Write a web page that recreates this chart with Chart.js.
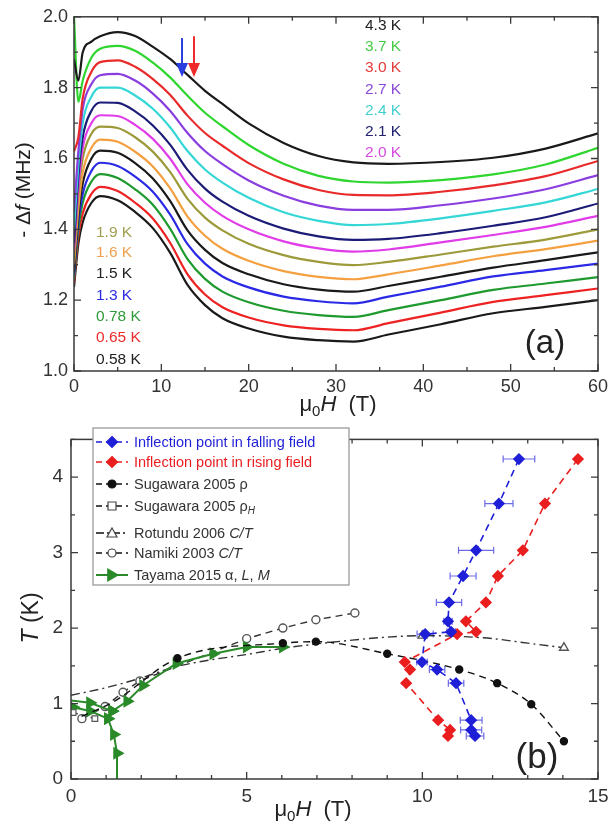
<!DOCTYPE html>
<html>
<head>
<meta charset="utf-8">
<script src="https://cdn.jsdelivr.net/npm/chart.js@4.4.1/dist/chart.umd.min.js"></script>
<style>
  body { margin: 0; background: #fff; }
  #wrap { position: relative; width: 616px; height: 829px; }
  #c1 { position: absolute; left: 0; top: 0; }
  #c2 { position: absolute; left: 0; top: 420px; }
</style>
</head>
<body>
<div id="wrap">
  <canvas id="c1" width="616" height="420"></canvas>
  <canvas id="c2" width="616" height="409"></canvas>
</div>
<script>
// ---- panel (a): -Δf vs field, one curve per temperature ----
const fieldGrid = [0, 0.5, 1, 2, 3, 5, 7, 9, 11, 13, 15, 17, 20, 24, 28, 32, 36, 42, 48, 54, 60];
const tempLabels = ['4.3 K', '3.7 K', '3.0 K', '2.7 K', '2.4 K', '2.1 K', '2.0 K',
                    '1.9 K', '1.6 K', '1.5 K', '1.3 K', '0.78 K', '0.65 K', '0.58 K'];
const df_4_3  = [1.88, 1.82, 1.90, 1.93, 1.945, 1.957, 1.946, 1.916, 1.881, 1.836, 1.791, 1.754, 1.699, 1.644, 1.607, 1.589, 1.585, 1.590, 1.602, 1.628, 1.671];
const df_3_7  = [2.0, 1.76, 1.82, 1.885, 1.91, 1.918, 1.904, 1.871, 1.829, 1.777, 1.729, 1.691, 1.638, 1.585, 1.551, 1.535, 1.532, 1.539, 1.555, 1.583, 1.630];
const df_3_0  = [1.62, 1.66, 1.77, 1.845, 1.872, 1.877, 1.859, 1.825, 1.780, 1.721, 1.672, 1.636, 1.587, 1.541, 1.511, 1.497, 1.496, 1.506, 1.524, 1.550, 1.593];
const df_2_7  = [1.45, 1.62, 1.74, 1.81, 1.835, 1.839, 1.820, 1.784, 1.735, 1.672, 1.621, 1.584, 1.538, 1.495, 1.467, 1.455, 1.455, 1.468, 1.487, 1.513, 1.553];
const df_2_4  = [1.40, 1.58, 1.70, 1.775, 1.80, 1.800, 1.778, 1.741, 1.688, 1.621, 1.569, 1.532, 1.489, 1.448, 1.424, 1.412, 1.415, 1.431, 1.452, 1.476, 1.514];
const df_2_1  = [1.36, 1.55, 1.66, 1.735, 1.758, 1.757, 1.733, 1.694, 1.639, 1.568, 1.515, 1.478, 1.438, 1.402, 1.380, 1.370, 1.373, 1.389, 1.410, 1.434, 1.473];
const df_2_0  = [1.34, 1.52, 1.63, 1.70, 1.722, 1.720, 1.695, 1.656, 1.600, 1.527, 1.475, 1.438, 1.400, 1.366, 1.346, 1.337, 1.343, 1.363, 1.384, 1.407, 1.438];
const df_1_9  = [1.32, 1.50, 1.60, 1.67, 1.69, 1.686, 1.660, 1.620, 1.562, 1.486, 1.433, 1.397, 1.359, 1.327, 1.308, 1.299, 1.308, 1.329, 1.351, 1.371, 1.400];
const df_1_6  = [1.30, 1.46, 1.56, 1.63, 1.653, 1.647, 1.619, 1.578, 1.516, 1.436, 1.382, 1.345, 1.311, 1.282, 1.266, 1.259, 1.273, 1.298, 1.324, 1.344, 1.368];
const df_1_5  = [1.28, 1.44, 1.53, 1.60, 1.622, 1.616, 1.587, 1.544, 1.480, 1.397, 1.342, 1.305, 1.273, 1.245, 1.230, 1.224, 1.240, 1.266, 1.292, 1.313, 1.335];
const df_1_3  = [1.27, 1.42, 1.50, 1.565, 1.588, 1.579, 1.549, 1.507, 1.442, 1.358, 1.303, 1.267, 1.236, 1.210, 1.197, 1.191, 1.210, 1.238, 1.267, 1.285, 1.303];
const df_0_78 = [1.26, 1.40, 1.475, 1.535, 1.556, 1.545, 1.513, 1.470, 1.402, 1.316, 1.260, 1.224, 1.194, 1.170, 1.158, 1.153, 1.172, 1.200, 1.229, 1.247, 1.265];
const df_0_65 = [1.25, 1.38, 1.445, 1.50, 1.52, 1.508, 1.475, 1.431, 1.362, 1.273, 1.216, 1.180, 1.151, 1.129, 1.119, 1.115, 1.135, 1.165, 1.195, 1.214, 1.233];
const df_0_58 = [1.237, 1.36, 1.42, 1.475, 1.494, 1.482, 1.449, 1.404, 1.334, 1.243, 1.186, 1.149, 1.120, 1.097, 1.087, 1.083, 1.103, 1.132, 1.163, 1.181, 1.200];
const curves = [df_4_3, df_3_7, df_3_0, df_2_7, df_2_4, df_2_1, df_2_0, df_1_9, df_1_6, df_1_5, df_1_3, df_0_78, df_0_65, df_0_58];

// arrows marking the inflection (falling / rising)
const arrowField = [12.37, 13.74];
const arrowFrom = [1.94, 1.945];
const arrowTo = [1.83, 1.83];

// ---- panel (b): phase diagram T vs field ----
const inflT      = [4.24, 3.65, 3.03, 2.69, 2.34, 2.09, 1.95, 1.92, 1.55, 1.45, 1.27, 0.78, 0.65, 0.57];
const hFalling   = [12.75, 12.18, 11.53, 11.16, 10.76, 10.73, 10.82, 10.08, 9.99, 10.42, 10.96, 11.39, 11.39, 11.5];
const hFallErr   = [0.45, 0.4, 0.5, 0.37, 0.36, 0.12, 0.12, 0.23, 0.15, 0.22, 0.22, 0.31, 0.3, 0.25];
const hRising    = [14.43, 13.49, 12.86, 12.15, 11.81, 11.24, 11.53, 10.99, 9.5, 9.65, 9.54, 10.45, 10.79, 10.73];
const sugRhoH    = [0.3, 1.2, 3.03, 6.03, 6.97, 9.0, 11.05, 12.13, 13.1, 14.03];
const sugRhoT    = [0.83, 1.02, 1.6, 1.8, 1.82, 1.66, 1.45, 1.27, 0.99, 0.5];
const sugRhoHallH = [0.06, 0.68];
const sugRhoHallT = [0.88, 0.8];
const rotH       = [0, 1, 2, 3, 4, 5, 6, 7, 8, 9, 10, 11, 12, 13, 14.03];
const rotT       = [1.11, 1.21, 1.34, 1.49, 1.58, 1.65, 1.73, 1.79, 1.84, 1.88, 1.9, 1.89, 1.86, 1.8, 1.74];
const namH       = [0.31, 0.97, 1.48, 1.96, 5.0, 6.03, 6.97, 8.08];
const namT       = [0.8, 0.96, 1.15, 1.3, 1.86, 2.0, 2.11, 2.2];
const tayH       = [1.31, 1.31, 1.22, 1.05, 1.17, 1.6, 2.05, 3.0, 4.05, 5.0, 6.03];
const tayT       = [0, 0.34, 0.59, 0.8, 0.9, 1.03, 1.24, 1.53, 1.66, 1.75, 1.75];
const tayB1H     = [1.05, 0.54, 0.06];
const tayB1T     = [0.8, 0.9, 0.95];
const tayB2H     = [1.17, 0.54, 0.0];
const tayB2T     = [0.9, 1.01, 1.04];

const FONT = '"Liberation Sans", Arial, sans-serif';
const curveColors = ['#1a1a1a', '#2fd62f', '#e82a2a', '#8a3ee0', '#34d6d6', '#1c1c78', '#e03ce8',
                     '#9c9a3a', '#f5a040', '#1a1a1a', '#2a2ae6', '#1f9a2f', '#ee2222', '#1a1a1a'];
const labelColors = ['#222', '#44cc44', '#e23a3a', '#8a4ad8', '#44d0d0', '#22226e', '#d64ae0',
                     '#a09e50', '#f0a050', '#222', '#2a2ae0', '#2f9a3a', '#ee2a2a', '#222'];

const zip = (xs, ys) => xs.map((x, i) => ({ x, y: ys[i] }));

// text made of runs: [text, sizePx, italic, dy]
function runWidth(ctx, runs) {
  let w = 0;
  runs.forEach(r => { ctx.font = (r[2] ? 'italic ' : '') + r[1] + 'px ' + FONT; w += ctx.measureText(r[0]).width; });
  return w;
}
function drawRuns(ctx, runs, x, y, align) {
  let cx = align === 'center' ? x - runWidth(ctx, runs) / 2 : x;
  runs.forEach(r => {
    ctx.font = (r[2] ? 'italic ' : '') + r[1] + 'px ' + FONT;
    ctx.fillText(r[0], cx, y + (r[3] || 0));
    cx += ctx.measureText(r[0]).width;
  });
}

// box around the plot with inward ticks on all sides
const framePlugin = {
  id: 'frame',
  afterDraw(chart, args, o) {
    const { ctx, chartArea: a, scales: { x, y } } = chart;
    ctx.save();
    ctx.strokeStyle = '#3a3a3a';
    ctx.lineWidth = 1.5;
    ctx.strokeRect(a.left, a.top, a.right - a.left, a.bottom - a.top);
    ctx.lineWidth = 1.3;
    ctx.beginPath();
    for (let v = x.min; v <= x.max + 1e-9; v += o.xMinor) {
      const major = Math.abs(v / o.xMajor - Math.round(v / o.xMajor)) < 1e-6;
      const len = major ? 7 : 4;
      const px = x.getPixelForValue(v);
      ctx.moveTo(px, a.bottom); ctx.lineTo(px, a.bottom - len);
      ctx.moveTo(px, a.top); ctx.lineTo(px, a.top + len);
    }
    for (let v = y.min; v <= y.max + 1e-9; v += o.yMinor) {
      const major = Math.abs(v / o.yMajor - Math.round(v / o.yMajor)) < 1e-6;
      const len = major ? 7 : 4;
      const py = y.getPixelForValue(v);
      ctx.moveTo(a.left, py); ctx.lineTo(a.left + len, py);
      ctx.moveTo(a.right, py); ctx.lineTo(a.right - len, py);
    }
    ctx.stroke();
    ctx.restore();
  }
};

// ---------- chart (a) ----------
const annotA = {
  id: 'annotA',
  afterDraw(chart) {
    const { ctx, scales: { x, y } } = chart;
    ctx.save();
    ctx.textAlign = 'left';
    ctx.textBaseline = 'alphabetic';
    // temperature labels (baselines)
    const rightY = [30, 51, 72, 94, 115, 136, 157];
    const leftY = [237, 257, 278, 300, 321, 342, 364];
    tempLabels.forEach((t, i) => {
      ctx.fillStyle = labelColors[i];
      ctx.font = '15.5px ' + FONT;
      if (i < 7) ctx.fillText(t, 365, rightY[i]);
      else ctx.fillText(t, 96, leftY[i - 7]);
    });
    // arrows
    ['#2a3ee0', '#ee2a2a'].forEach((c, i) => {
      const px = x.getPixelForValue(arrowField[i]);
      const y0 = y.getPixelForValue(arrowFrom[i]);
      const y1 = y.getPixelForValue(arrowTo[i]);
      ctx.strokeStyle = c; ctx.fillStyle = c; ctx.lineWidth = 2;
      ctx.beginPath(); ctx.moveTo(px, y0); ctx.lineTo(px, y1 - 10); ctx.stroke();
      ctx.beginPath(); ctx.moveTo(px - 6, y1 - 14); ctx.lineTo(px + 6, y1 - 14); ctx.lineTo(px, y1); ctx.closePath(); ctx.fill();
    });
    // axis titles
    ctx.fillStyle = '#222';
    drawRuns(ctx, [['\u03bc', 22], ['0', 15, false, 5], ['H', 22, true], ['  (T)', 22]], 338, 411, 'center');
    ctx.save();
    ctx.translate(30, 190);
    ctx.rotate(-Math.PI / 2);
    drawRuns(ctx, [['- \u0394', 21], ['f', 21, true], [' (MHz)', 21]], 0, 0, 'center');
    ctx.restore();
    ctx.font = '33px ' + FONT;
    ctx.textAlign = 'center';
    ctx.textBaseline = 'middle';
    ctx.fillText('(a)', 545, 344);
    ctx.restore();
  }
};

new Chart(document.getElementById('c1'), {
  type: 'scatter',
  data: {
    datasets: curves.map((c, i) => ({
      label: tempLabels[i],
      data: zip(fieldGrid, c),
      showLine: true,
      borderColor: curveColors[i],
      borderWidth: 2.2,
      pointRadius: 0,
      cubicInterpolationMode: 'monotone'
    }))
  },
  options: {
    responsive: false,
    animation: false,
    layout: { padding: { top: 15, right: 18, left: 0, bottom: 0 } },
    plugins: { legend: { display: false }, tooltip: { enabled: false },
      frame: { xMajor: 10, xMinor: 5, yMajor: 0.2, yMinor: 0.1 } },
    scales: {
      x: {
        type: 'linear', min: 0, max: 60,
        grid: { display: false, drawTicks: false }, border: { display: false },
        ticks: { stepSize: 10, padding: 5, color: '#333', font: { size: 18, family: FONT } },
        afterFit: s => { s.height = 49; }
      },
      y: {
        min: 1.0, max: 2.0,
        grid: { display: false, drawTicks: false }, border: { display: false },
        ticks: { stepSize: 0.2, padding: 6, color: '#333', font: { size: 18, family: FONT },
          callback: v => v.toFixed(1) },
        afterFit: s => { s.width = 74; }
      }
    }
  },
  plugins: [framePlugin, annotA]
});

// ---------- chart (b) ----------
const BLUE = '#1f1fd8', RED = '#ea1e1e', GREEN = '#2a8a2a', DARK = '#111';

const errorBars = {
  id: 'errorBars',
  beforeDatasetsDraw(chart) {
    const { ctx, scales: { x, y } } = chart;
    chart.data.datasets.forEach(ds => {
      if (!ds.errX) return;
      ctx.save();
      ctx.strokeStyle = '#6b6be6';
      ctx.lineWidth = 1.2;
      ds.data.forEach((p, i) => {
        const xl = x.getPixelForValue(p.x - ds.errX[i]);
        const xr = x.getPixelForValue(p.x + ds.errX[i]);
        const py = y.getPixelForValue(p.y);
        ctx.beginPath();
        ctx.moveTo(xl, py); ctx.lineTo(xr, py);
        ctx.moveTo(xl, py - 3.5); ctx.lineTo(xl, py + 3.5);
        ctx.moveTo(xr, py - 3.5); ctx.lineTo(xr, py + 3.5);
        ctx.stroke();
      });
      ctx.restore();
    });
  }
};

function marker(ctx, kind, x, y, r, fill, stroke) {
  ctx.save();
  ctx.fillStyle = fill; ctx.strokeStyle = stroke; ctx.lineWidth = 1.2;
  ctx.beginPath();
  if (kind === 'diamond') {
    ctx.moveTo(x, y - r); ctx.lineTo(x + r, y); ctx.lineTo(x, y + r); ctx.lineTo(x - r, y); ctx.closePath();
  } else if (kind === 'circle') {
    ctx.arc(x, y, r, 0, Math.PI * 2);
  } else if (kind === 'square') {
    ctx.rect(x - r, y - r, 2 * r, 2 * r);
  } else if (kind === 'triangle') {
    ctx.moveTo(x, y - r); ctx.lineTo(x + r, y + r * 0.8); ctx.lineTo(x - r, y + r * 0.8); ctx.closePath();
  } else if (kind === 'tri-right') {
    ctx.moveTo(x + r, y); ctx.lineTo(x - r * 0.7, y - r); ctx.lineTo(x - r * 0.7, y + r); ctx.closePath();
  }
  ctx.fill(); ctx.stroke();
  ctx.restore();
}

const legendRows = [
  { y: 22,  color: BLUE, dash: [6, 4], kind: 'diamond', fill: BLUE, stroke: BLUE, r: 5.5, runs: [['Inflection point in falling field', 14.5]] },
  { y: 42,  color: RED,  dash: [6, 4], kind: 'diamond', fill: RED, stroke: RED, r: 5.5, runs: [['Inflection point in rising field', 14.5]] },
  { y: 64,  color: DARK, dash: [6, 4], kind: 'circle', fill: DARK, stroke: DARK, r: 4, runs: [['Sugawara 2005 \u03c1', 14.5]] },
  { y: 86,  color: DARK, dash: [6, 4], kind: 'square', fill: '#fff', stroke: '#444', r: 4, runs: [['Sugawara 2005 \u03c1', 14.5], ['H', 10, true, 4]] },
  { y: 113, color: DARK, dash: [8, 3, 2, 3], kind: 'triangle', fill: '#fff', stroke: '#444', r: 5, runs: [['Rotundu 2006 ', 14.5], ['C/T', 14.5, true]] },
  { y: 133, color: DARK, dash: [6, 4], kind: 'circle', fill: '#fff', stroke: '#444', r: 4, runs: [['Namiki 2003 ', 14.5], ['C/T', 14.5, true]] },
  { y: 155, color: GREEN, dash: [], kind: 'tri-right', fill: GREEN, stroke: GREEN, r: 6, runs: [['Tayama 2015 \u03b1, ', 14.5], ['L', 14.5, true], [', ', 14.5], ['M', 14.5, true]] }
];
const textColors = [BLUE, RED, '#333', '#333', '#333', '#333', '#333'];

const annotB = {
  id: 'annotB',
  afterDraw(chart) {
    const { ctx } = chart;
    ctx.save();
    // legend box
    ctx.fillStyle = '#fff';
    ctx.fillRect(93, 8, 256, 157);
    ctx.strokeStyle = '#9a9a9a';
    ctx.lineWidth = 1.3;
    ctx.strokeRect(93, 8, 256, 157);
    legendRows.forEach((row, i) => {
      ctx.save();
      ctx.strokeStyle = row.color;
      ctx.lineWidth = row.color === GREEN ? 2 : 1.4;
      ctx.setLineDash(row.dash);
      ctx.beginPath(); ctx.moveTo(96, row.y); ctx.lineTo(128, row.y); ctx.stroke();
      ctx.restore();
      marker(ctx, row.kind, 112, row.y, row.r, row.fill, row.stroke);
      ctx.fillStyle = textColors[i];
      ctx.textBaseline = 'middle';
      drawRuns(ctx, row.runs, 134, row.y + 1, 'left');
    });
    // axis titles
    ctx.fillStyle = '#222';
    ctx.textBaseline = 'alphabetic';
    drawRuns(ctx, [['\u03bc', 22], ['0', 15, false, 5], ['H', 22, true], ['  (T)', 22]], 313, 396, 'center');
    ctx.save();
    ctx.translate(38, 198);
    ctx.rotate(-Math.PI / 2);
    drawRuns(ctx, [['T', 23, true], [' (K)', 23]], 0, 0, 'center');
    ctx.restore();
    ctx.font = '35px ' + FONT;
    ctx.textAlign = 'center';
    ctx.textBaseline = 'middle';
    ctx.fillText('(b)', 537, 338);
    ctx.restore();
  }
};

new Chart(document.getElementById('c2'), {
  type: 'scatter',
  data: {
    datasets: [
      { label: 'falling', data: zip(hFalling, inflT), errX: hFallErr, showLine: true,
        borderColor: BLUE, borderWidth: 1.6, borderDash: [7, 5], pointStyle: 'rectRot',
        pointRadius: 5, backgroundColor: BLUE, pointBorderColor: BLUE },
      { label: 'rising', data: zip(hRising, inflT), showLine: true,
        borderColor: RED, borderWidth: 1.6, borderDash: [7, 5], pointStyle: 'rectRot',
        pointRadius: 5, backgroundColor: RED, pointBorderColor: RED },
      { label: 'Sugawara rho', data: zip(sugRhoH, sugRhoT), showLine: true,
        borderColor: DARK, borderWidth: 1.4, borderDash: [7, 5],
        pointRadius: sugRhoH.map((h, i) => i < 2 ? 0 : 3.5), backgroundColor: DARK, pointBorderColor: DARK,
        cubicInterpolationMode: 'monotone' },
      { label: 'Sugawara rhoH', data: zip(sugRhoHallH, sugRhoHallT), showLine: true,
        borderColor: '#444', borderWidth: 1.2, borderDash: [5, 4], pointStyle: 'rect',
        pointRadius: 4, backgroundColor: '#fff', pointBorderColor: '#555' },
      { label: 'Tayama', data: zip(tayH, tayT), showLine: true,
        borderColor: GREEN, borderWidth: 2, pointStyle: 'triangle', rotation: 90,
        pointRadius: tayH.map((h, i) => i === 0 ? 0 : 5.5), backgroundColor: GREEN, pointBorderColor: GREEN },
      { label: 'Tayama b1', data: zip(tayB1H, tayB1T), showLine: true,
        borderColor: GREEN, borderWidth: 2, pointStyle: 'triangle', rotation: 90,
        pointRadius: 5.5, backgroundColor: GREEN, pointBorderColor: GREEN },
      { label: 'Tayama b2', data: zip(tayB2H, tayB2T), showLine: true,
        borderColor: GREEN, borderWidth: 2, pointStyle: 'triangle', rotation: 90,
        pointRadius: tayB2H.map((h, i) => i === 2 ? 0 : 5.5), backgroundColor: GREEN, pointBorderColor: GREEN },
      { label: 'Rotundu', data: zip(rotH, rotT), showLine: true,
        borderColor: '#333', borderWidth: 1.4, borderDash: [9, 4, 2, 4], pointStyle: 'triangle',
        pointRadius: rotH.map(h => (h === 10 || h === 14.03) ? 5 : 0),
        backgroundColor: '#fff', pointBorderColor: '#555', cubicInterpolationMode: 'monotone' },
      { label: 'Namiki', data: zip(namH, namT), showLine: true,
        borderColor: '#333', borderWidth: 1.4, borderDash: [7, 5],
        pointRadius: 4, backgroundColor: '#fff', pointBorderColor: '#555' }
    ]
  },
  options: {
    responsive: false,
    animation: false,
    layout: { padding: { top: 2, right: 18, left: 0, bottom: 0 } },
    plugins: { legend: { display: false }, tooltip: { enabled: false },
      frame: { xMajor: 5, xMinor: 1, yMajor: 1, yMinor: 0.5 } },
    scales: {
      x: {
        type: 'linear', min: 0, max: 15,
        grid: { display: false, drawTicks: false }, border: { display: false },
        ticks: { stepSize: 5, padding: 6, color: '#333', font: { size: 19, family: FONT } },
        afterFit: s => { s.height = 50; }
      },
      y: {
        min: 0, max: 4.5,
        grid: { display: false, drawTicks: false }, border: { display: false },
        ticks: { stepSize: 1, padding: 8, color: '#333', font: { size: 19, family: FONT },
          callback: v => Number.isInteger(v) ? v : '' },
        afterFit: s => { s.width = 71; }
      }
    }
  },
  plugins: [framePlugin, errorBars, annotB]
});
</script>
</body>
</html>
